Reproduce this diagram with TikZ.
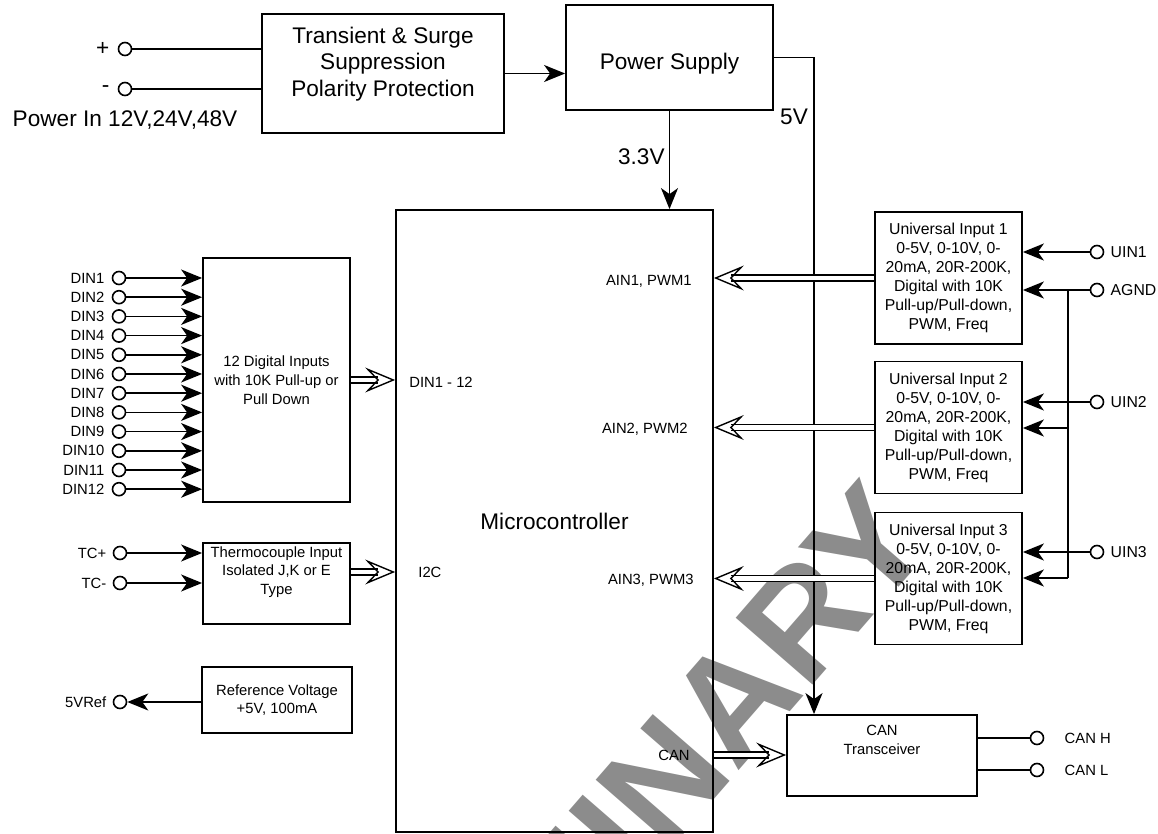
\documentclass[tikz,border=0pt]{standalone}
\usepackage{fontspec}
\setmainfont{Liberation Sans}
\usetikzlibrary{positioning,arrows.meta,backgrounds}
\newcommand{\bigtxt}{\fontsize{11.3pt}{13.3pt}\selectfont}
\newcommand{\smalltxt}{\fontsize{7.4pt}{9.4pt}\selectfont}
\newcommand{\uitxt}{\fontsize{7.9pt}{9.5pt}\selectfont}

\begin{document}
\begin{tikzpicture}[
  x=0.5pt, y=-0.5pt,
  font=\smalltxt,
  >={Stealth[length=10.5pt, width=8.5pt, inset=3pt]},
  box/.style={draw, line width=0.9pt, inner sep=0pt, align=center},
  txt/.style={inner sep=0pt, align=center},
  term/.style={draw, circle, line width=0.8pt, minimum size=6.5pt, inner sep=0pt},
  wire/.style={line width=0.8pt},
  arr/.style={wire, ->},
  bus/.style={double, double distance=2.2pt, line width=0.7pt,
    -{Stealth[open, length=15pt, width=12.5pt, inset=6pt, line width=0.7pt]}},
]
\useasboundingbox (0,0) rectangle (1158,834);

% Watermark
\begin{scope}[on background layer]
  \clip (0,0) rectangle (1158,834);
  \node[txt, text=black!45, font=\fontsize{74pt}{74pt}\selectfont\bfseries, rotate=49, anchor=east] (mark) at (900,508) {PRELIMINARY};
\end{scope}

% Power input and supply
\node[box, minimum width=121pt, minimum height=59.5pt] (trans) at (383,73.5) {};
\node[txt, font=\bigtxt] (transtext) at (383,64) {Transient \& Surge\\Suppression\\Polarity Protection};
\node[box, font=\bigtxt, text height=14pt, minimum width=103.5pt, minimum height=52.5pt] (psu) at (669.5,57.5) {Power Supply};
\node[term] (vplus) at (125,49) {};
\node[term] (vminus) at (125,89) {};
\node[txt, font=\bigtxt, left=4pt of vplus] (lplus) {+};
\node[txt, font=\bigtxt, left=4pt of vminus] (lminus) {-};
\node[txt, font=\bigtxt] (pwrin) at (125,120) {Power In 12V,24V,48V};

% Microcontroller
\node[box, font=\bigtxt, minimum width=158.5pt, minimum height=311pt] (mcu) at (554.5,521) {Microcontroller};
\node[txt, anchor=west] (ldin) at (409,382) {DIN1 - 12};
\node[txt, anchor=west] (li2c) at (418,572) {I2C};
\node[txt, anchor=east] (lain1) at (692,281) {AIN1, PWM1};
\node[txt, anchor=east] (lain2) at (688,429) {AIN2, PWM2};
\node[txt, anchor=east] (lain3) at (694,580) {AIN3, PWM3};
\node[txt, anchor=east] (lcan) at (690,755) {CAN};

% Left side blocks
\node[box, minimum width=73.5pt, minimum height=122pt] (digin) at (276.5,380) {12 Digital Inputs\\with 10K Pull-up or\\Pull Down};
\node[box, minimum width=73.5pt, minimum height=40.5pt] (tc) at (276.5,583.5) {};
\node[txt] (tctext) at (276.5,572) {Thermocouple Input\\Isolated J,K or E\\Type};
\node[box, minimum width=75pt, minimum height=33pt] (vref) at (277,700) {Reference Voltage\\+5V, 100mA};

\foreach \i in {1,...,12} {
  \node[term] (dinpin\i) at (119,{278+19.2*(\i-1)}) {};
  \node[txt, left=3.5pt of dinpin\i] (ldinpin\i) {DIN\i};
  \draw[arr] (dinpin\i) -- (dinpin\i -| digin.west);
}

\node[term] (tcp) at (120,553) {};
\node[term] (tcm) at (120,583) {};
\node[txt, left=3pt of tcp] (ltcp) {TC+};
\node[txt, left=3pt of tcm] (ltcm) {TC-};
\node[term] (vrefpin) at (120,702) {};
\node[txt, left=3pt of vrefpin] (lvrefpin) {5VRef};

% Right side blocks
\foreach \n/\y in {1/278, 2/427.5, 3/578.5}
  \node[box, font=\uitxt, minimum width=73.5pt, minimum height=66pt] (ui\n) at (948.5,\y)
    {Universal Input \n\\0-5V, 0-10V, 0-\\20mA, 20R-200K,\\Digital with 10K\\Pull-up/Pull-down,\\PWM, Freq};

\node[term] (uin1) at (1097,252) {};
\node[term] (agnd) at (1097,290) {};
\node[term] (uin2) at (1097,402) {};
\node[term] (uin3) at (1097,552) {};
\node[txt, font=\uitxt, right=3pt of uin1] (luin1) {UIN1};
\node[txt, font=\uitxt, right=3pt of agnd] (lagnd) {AGND};
\node[txt, font=\uitxt, right=3pt of uin2] (luin2) {UIN2};
\node[txt, font=\uitxt, right=3pt of uin3] (luin3) {UIN3};
\coordinate (gnd1) at (1068,290);
\coordinate (gnd2) at (1068,428);
\coordinate (gnd3) at (1068,578);

\node[box, minimum width=95pt, minimum height=40.5pt] (can) at (882,755.5) {};
\node[txt] (cantext) at (882,740) {CAN\\Transceiver};
\node[term] (canh) at (1037,738) {};
\node[term] (canl) at (1037,770) {};
\node[txt, right=10pt of canh] (lcanh) {CAN H};
\node[txt, right=10pt of canl] (lcanl) {CAN L};

% Power connections
\draw[wire] (vplus) -- (vplus -| trans.west);
\draw[wire] (vminus) -- (vminus -| trans.west);
\draw[arr] (trans.east) -- (trans.east -| psu.west);
\draw[arr] (psu.south) -- (psu.south |- mcu.north);
\node[txt, font=\bigtxt, anchor=east] (l33) at (665,157) {3.3V};
\coordinate (v5) at (814,57.5);
\draw[arr] (psu.east) -- (v5) -- (v5 |- can.north);
\node[txt, font=\bigtxt] (l5v) at (794,117) {5V};

% Inputs
\draw[arr] (tcp) -- (tcp -| tc.west);
\draw[arr] (tcm) -- (tcm -| tc.west);
\draw[arr] (vrefpin -| vref.west) -- (vrefpin);
\draw[arr] (uin1) -- (uin1 -| ui1.east);
\draw[arr] (agnd) -- (agnd -| ui1.east);
\draw[arr] (uin2) -- (uin2 -| ui2.east);
\draw[arr] (uin3) -- (uin3 -| ui3.east);
\draw[wire] (gnd1) -- (gnd3);
\draw[arr] (gnd2) -- (gnd2 -| ui2.east);
\draw[arr] (gnd3) -- (gnd3 -| ui3.east);

% Buses
\draw[bus] (digin.east) -- (digin.east -| mcu.west);
\draw[bus] (tctext -| tc.east) -- (tctext -| mcu.west);
\foreach \n in {1,2,3}
  \draw[bus] (ui\n.west) -- (ui\n.west -| mcu.east);
\draw[bus] (mcu.east |- lcan) -- (can.west |- lcan);
\draw[wire] (can.east |- canh) -- (canh);
\draw[wire] (can.east |- canl) -- (canl);

\end{tikzpicture}
\end{document}
